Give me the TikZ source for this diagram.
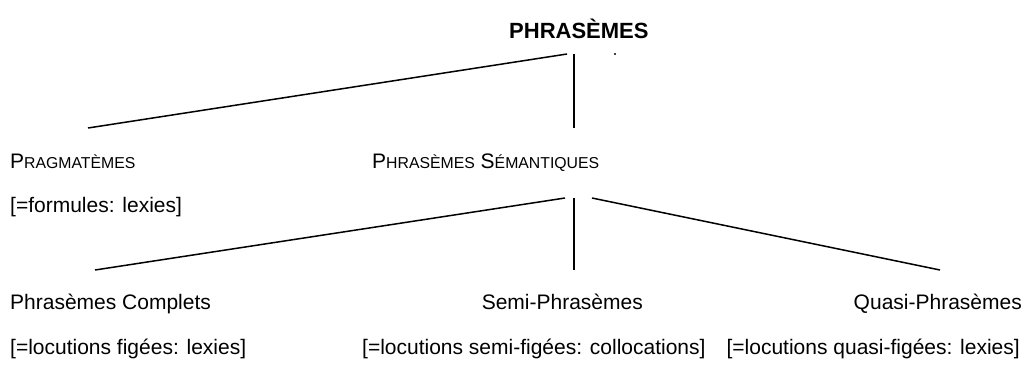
\documentclass[tikz,border=0pt]{standalone}
\usepackage{fontspec}
\setmainfont{Liberation Sans}
\newcommand{\fakesc}[2]{#1{\fontsize{15.8}{18}\selectfont #2}}
\tikzset{
  lbl/.style={anchor=base west, inner sep=0pt, font=\fontsize{21}{24}\selectfont},
  ttl/.style={anchor=base west, inner sep=0pt, font=\fontsize{22}{26}\selectfont\bfseries},
  branch/.style={line width=1.5pt, black},
}
\begin{document}
\begin{tikzpicture}[x=1pt,y=-1pt]
\useasboundingbox (0,0) rectangle (1028,376);
% labels
\node[ttl] (root) at (509,38) {PHRASÈMES};
\node[lbl] (prag) at (10,168) {\fakesc{P}{RAGMATÈMES}};
\node[lbl] (pragx) at (10,212) {[=formules: lexies]};
\node[lbl] (sem) at (372,168) {\fakesc{P}{HRASÈMES} \fakesc{S}{ÉMANTIQUES}};
\node[lbl] (comp) at (10,309) {Phrasèmes Complets};
\node[lbl] (compx) at (10,354) {[=locutions figées: lexies]};
\node[lbl, anchor=base east] (semi) at (643,309) {Semi-Phrasèmes};
\node[lbl] (semix) at (362,354) {[=locutions semi-figées: collocations]};
\node[lbl, anchor=base east] (quasi) at (1022,309) {Quasi-Phrasèmes};
\node[lbl, anchor=base east] (quasix) at (1020,354) {[=locutions quasi-figées: lexies]};
% branch end points
\coordinate (r-l) at (567,54);
\coordinate (r-v) at (574,54);
\coordinate (prag-t) at (88,128);
\coordinate (sem-t) at (574,128);
\coordinate (s-l) at (565,198);
\coordinate (s-v) at (574,198);
\coordinate (s-r) at (592,198);
\coordinate (comp-t) at (95,270);
\coordinate (semi-t) at (574,270);
\coordinate (quasi-t) at (940,270);
\coordinate (speck) at (615,54);
% branches
\draw[branch] (r-l) -- (prag-t);
\draw[branch] (r-v) -- (sem-t);
\draw[branch] (s-l) -- (comp-t);
\draw[branch] (s-v) -- (semi-t);
\draw[branch] (s-r) -- (quasi-t);
\fill (speck) circle (1.1);
\end{tikzpicture}
\end{document}
